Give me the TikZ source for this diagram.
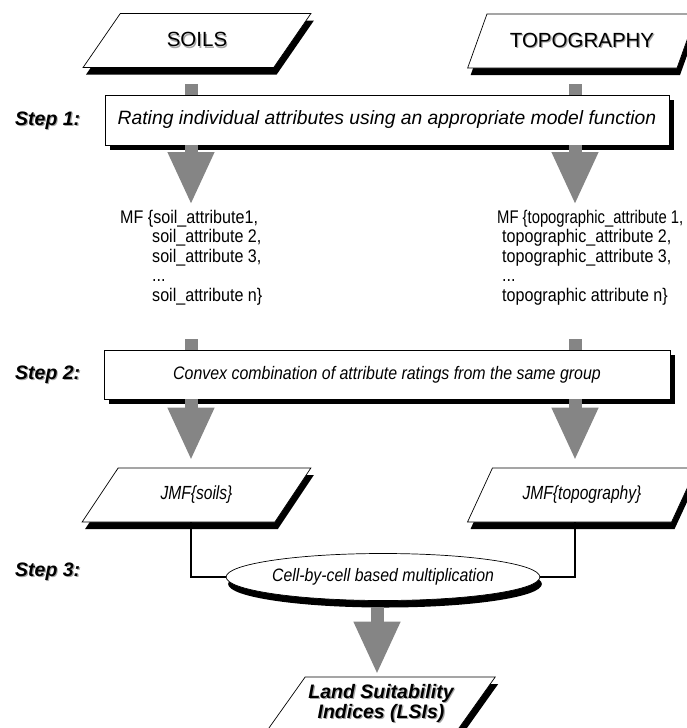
\documentclass[tikz,border=0pt]{standalone}
\usepackage{fontspec}
\setmainfont{Liberation Sans}
\newfontfamily\narrowfont{Liberation Sans}[FakeStretch=0.88]
\newfontfamily\condfont{Liberation Sans}[FakeStretch=0.82]
\usetikzlibrary{shapes.geometric,shadows,arrows.meta}

\definecolor{arrowgray}{HTML}{858585}
\newcommand{\shadowed}[1]{\rlap{\hspace{1.2pt}\raisebox{-1.2pt}{\color{black!35}#1}}#1}

\tikzset{
  datashape/.style={trapezium, trapezium left angle=47, trapezium right angle=133,
    trapezium stretches, minimum width=229pt, minimum height=54pt, inner sep=0pt,
    draw, line width=0.7pt, fill=white,
    drop shadow={shadow xshift=3pt, shadow yshift=-7pt, fill=black, opacity=1}},
  stepbox/.style={rectangle, draw, line width=0.7pt, fill=white, inner sep=0pt,
    drop shadow={shadow xshift=5pt, shadow yshift=-5pt, fill=black, opacity=1}},
  steplabel/.style={anchor=west, inner sep=0pt, font=\fontsize{19.5}{21}\selectfont\bfseries\itshape},
  attrlist/.style={anchor=north west, inner sep=0pt, align=left,
    font=\narrowfont\fontsize{18.3}{19.5}\selectfont},
  flowarrow/.style={draw=arrowgray, line width=13pt, -{Triangle[width=43pt,length=53pt]}},
  stub/.style={draw=arrowgray, line width=13pt},
  joinline/.style={draw, line width=1.2pt},
}

\begin{document}
\begin{tikzpicture}[x=1pt,y=-1pt]
  \useasboundingbox (0,0) rectangle (686,728);

  % input layers
  \node[datashape, font=\fontsize{20.5}{22}\selectfont] (soils) at (197,40.5) {\shadowed{SOILS}};
  \node[datashape, font=\fontsize{20.5}{22}\selectfont] (topo) at (582,41) {\shadowed{TOPOGRAPHY}};

  % column positions
  \coordinate (soilcol) at (191,0);
  \coordinate (topocol) at (575,0);

  % step 1
  \node[steplabel] (s1) at (15,121) {\shadowed{Step 1:}};
  \node[stepbox, minimum width=564pt, minimum height=50pt, font=\fontsize{19.3}{21}\selectfont\itshape]
    (rate) at (387,120) {Rating individual attributes using an appropriate model function};

  \node[attrlist] (mfsoil) at (120,210) {MF \{soil\_attribute1,\\
    \hspace*{32pt}soil\_attribute 2,\\
    \hspace*{32pt}soil\_attribute 3,\\
    \hspace*{32pt}...\\
    \hspace*{32pt}soil\_attribute n\}};
  \node[attrlist] (mftopo) at (497,210) {\scalebox{0.92}[1]{MF \{topographic\_attribute 1,}\\
    \hspace*{5pt}topographic\_attribute 2,\\
    \hspace*{5pt}topographic\_attribute 3,\\
    \hspace*{5pt}...\\
    \hspace*{5pt}topographic attribute n\}};

  % step 2
  \node[steplabel] (s2) at (15,375) {\shadowed{Step 2:}};
  \node[stepbox, minimum width=566pt, minimum height=49pt, font=\narrowfont\fontsize{18.1}{20}\selectfont\itshape]
    (convex) at (387,374.5) {Convex combination of attribute ratings from the same group};

  \node[datashape, font=\condfont\fontsize{19}{20}\selectfont\itshape] (jmfsoil) at (196.5,495) {JMF\{soils\}};
  \node[datashape, font=\condfont\fontsize{19}{20}\selectfont\itshape] (jmftopo) at (582,495) {JMF\{topography\}};

  % step 3
  \node[steplabel] (s3) at (15,572) {\shadowed{Step 3:}};
  \node[ellipse, draw, line width=0.7pt, fill=white, minimum width=284pt, minimum height=47pt, inner sep=0pt,
    drop shadow={shadow xshift=2pt, shadow yshift=-7pt, fill=black, opacity=1},
    font=\narrowfont\fontsize{18}{20}\selectfont\itshape] (mult) at (383,577) {Cell-by-cell based multiplication};

  \node[datashape, font=\fontsize{19.5}{20}\selectfont\bfseries\itshape, align=center] (lsi) at (381,704)
    {\shadowed{Land Suitability}\\\shadowed{Indices (LSIs)}};

  % connectors
  \draw[stub] ([yshift=-16pt]soilcol |- soils.south) -- (soilcol |- rate.north);
  \draw[stub] ([yshift=-16pt]topocol |- topo.south) -- (topocol |- rate.north);
  \draw[flowarrow] (soilcol |- rate.south) -- ([yshift=5pt]soilcol |- mfsoil.north);
  \draw[flowarrow] (topocol |- rate.south) -- ([yshift=5pt]topocol |- mftopo.north);

  \draw[stub] (soilcol |- 0,339) -- (soilcol |- convex.north);
  \draw[stub] (topocol |- 0,339) -- (topocol |- convex.north);
  \draw[flowarrow] (soilcol |- convex.south) -- ([yshift=7pt]soilcol |- jmfsoil.north);
  \draw[flowarrow] (topocol |- convex.south) -- ([yshift=7pt]topocol |- jmftopo.north);

  \draw[joinline] (soilcol |- jmfsoil.south) |- (mult.west);
  \draw[joinline] (topocol |- jmftopo.south) |- (mult.east);

  \draw[flowarrow] ([yshift=-6pt]mult.south -| 377,0) -- ([yshift=2pt]lsi.north -| 377,0);
\end{tikzpicture}
\end{document}
